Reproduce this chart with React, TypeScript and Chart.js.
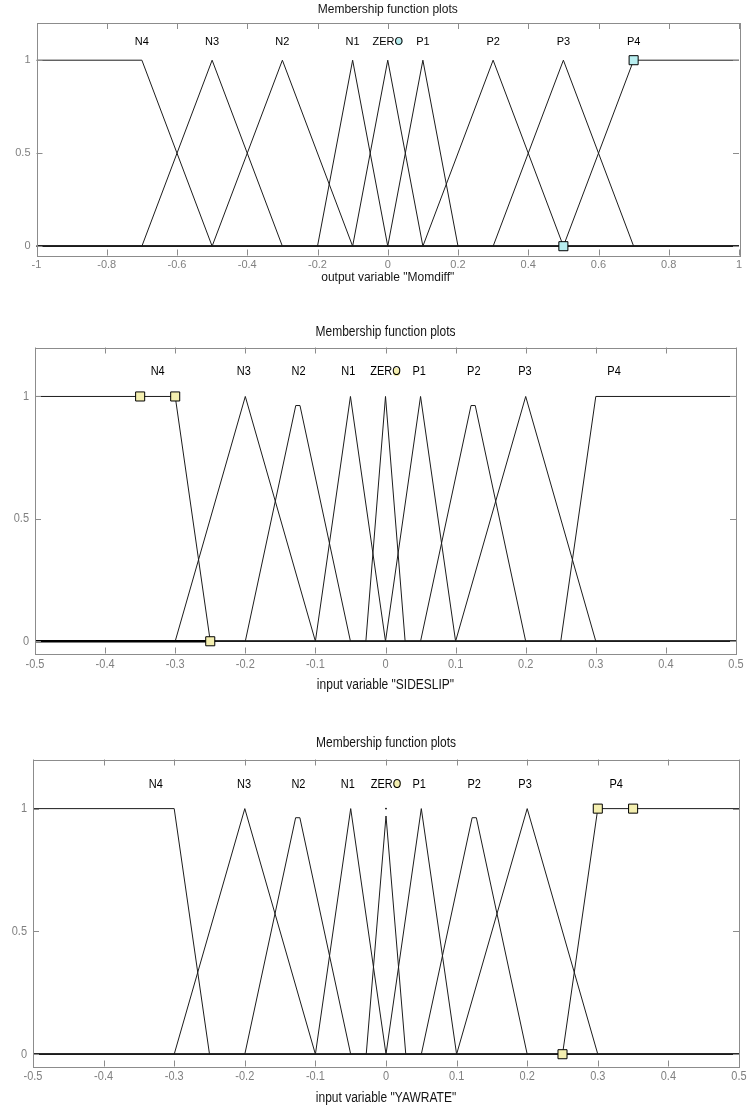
import React, { useEffect, useRef } from 'react';
import { Chart, registerables } from 'chart.js';

Chart.register(...registerables);

// ---------- shared ----------
const MF_NAMES = ['N4', 'N3', 'N2', 'N1', 'ZERO', 'P1', 'P2', 'P3', 'P4'];
const Y_TICKS = [0, 0.5, 1];
const TITLE_TEXT = 'Membership function plots';

// ---------- panel 1 : output variable "Momdiff" ----------
const momdiffXTicks = [-1, -0.8, -0.6, -0.4, -0.2, 0, 0.2, 0.4, 0.6, 0.8, 1];
const momdiffLabelX = [-0.7, -0.5, -0.3, -0.1, 0, 0.1, 0.3, 0.5, 0.7];
const momdiffMFs = [
  [[-1, 1], [-0.7, 1], [-0.5, 0], [1, 0]],
  [[-1, 0], [-0.7, 0], [-0.5, 1], [-0.3, 0], [1, 0]],
  [[-1, 0], [-0.5, 0], [-0.3, 1], [-0.1, 0], [1, 0]],
  [[-1, 0], [-0.2, 0], [-0.1, 1], [0, 0], [1, 0]],
  [[-1, 0], [-0.1, 0], [0, 1], [0.1, 0], [1, 0]],
  [[-1, 0], [0, 0], [0.1, 1], [0.2, 0], [1, 0]],
  [[-1, 0], [0.1, 0], [0.3, 1], [0.5, 0], [1, 0]],
  [[-1, 0], [0.3, 0], [0.5, 1], [0.7, 0], [1, 0]],
  [[-1, 0], [0.5, 0], [0.7, 1], [1, 1]],
];
const momdiffMarkers = [[0.7, 1], [0.5, 0]];

// ---------- panel 2 : input variable "SIDESLIP" ----------
const sideslipXTicks = [-0.5, -0.4, -0.3, -0.2, -0.1, 0, 0.1, 0.2, 0.3, 0.4, 0.5];
const sideslipLabelX = [-0.325, -0.202, -0.124, -0.053, 0, 0.048, 0.126, 0.199, 0.326];
const sideslipMFs = [
  [[-0.5, 1], [-0.3, 1], [-0.25, 0], [0.5, 0]],
  [[-0.5, 0], [-0.3, 0], [-0.2, 1], [-0.1, 0], [0.5, 0]],
  [[-0.5, 0], [-0.2, 0], [-0.128, 0.963], [-0.122, 0.963], [-0.05, 0], [0.5, 0]],
  [[-0.5, 0], [-0.1, 0], [-0.05, 1], [0, 0], [0.5, 0]],
  [[-0.5, 0], [-0.028, 0], [0, 1], [0.028, 0], [0.5, 0]],
  [[-0.5, 0], [0, 0], [0.05, 1], [0.1, 0], [0.5, 0]],
  [[-0.5, 0], [0.05, 0], [0.122, 0.963], [0.128, 0.963], [0.2, 0], [0.5, 0]],
  [[-0.5, 0], [0.1, 0], [0.2, 1], [0.3, 0], [0.5, 0]],
  [[-0.5, 0], [0.25, 0], [0.3, 1], [0.5, 1]],
];
const sideslipMarkers = [[-0.35, 1], [-0.3, 1], [-0.25, 0]];
const sideslipThickBase = [[-0.5, 0], [-0.25, 0]];

// ---------- panel 3 : input variable "YAWRATE" ----------
const yawrateXTicks = [-0.5, -0.4, -0.3, -0.2, -0.1, 0, 0.1, 0.2, 0.3, 0.4, 0.5];
const yawrateLabelX = [-0.326, -0.201, -0.124, -0.054, 0, 0.047, 0.125, 0.197, 0.326];
const yawrateMFs = [
  [[-0.5, 1], [-0.3, 1], [-0.25, 0], [0.5, 0]],
  [[-0.5, 0], [-0.3, 0], [-0.2, 1], [-0.1, 0], [0.5, 0]],
  [[-0.5, 0], [-0.2, 0], [-0.128, 0.963], [-0.122, 0.963], [-0.05, 0], [0.5, 0]],
  [[-0.5, 0], [-0.1, 0], [-0.05, 1], [0, 0], [0.5, 0]],
  [[-0.5, 0], [-0.028, 0], [0, 0.97], [0.028, 0], [0.5, 0]],
  [[-0.5, 0], [0, 0], [0.05, 1], [0.1, 0], [0.5, 0]],
  [[-0.5, 0], [0.05, 0], [0.122, 0.963], [0.128, 0.963], [0.2, 0], [0.5, 0]],
  [[-0.5, 0], [0.1, 0], [0.2, 1], [0.3, 0], [0.5, 0]],
  [[-0.5, 0], [0.25, 0], [0.3, 1], [0.5, 1]],
];
const yawrateMarkers = [[0.3, 1], [0.35, 1], [0.25, 0]];
const yawrateDots = [[0, 1]];

type Pt = number[];
type Spec = {
  top: number;
  height: number;
  l: number;
  r: number;
  t: number;
  b: number;
  xMin: number;
  xMax: number;
  xTicks: number[];
  labelX: number[];
  mfs: Pt[][];
  markers: Pt[];
  markerColor: string;
  thick?: Pt[];
  dots?: Pt[];
  titleY: number;
  tickY: number;
  xlabel: string;
  xlabelY: number;
  sy: number;
};

const FONT = '"Liberation Sans", Arial, sans-serif';

const PANELS: Spec[] = [
  {
    top: 0, height: 292, l: 36.5, r: 739, t: 23, b: 255.5,
    xMin: -1, xMax: 1, xTicks: momdiffXTicks, labelX: momdiffLabelX, mfs: momdiffMFs,
    markers: momdiffMarkers, markerColor: '#b8eef0',
    titleY: 10, tickY: 265, xlabel: 'output variable "Momdiff"', xlabelY: 277.5, sy: 1.0,
  },
  {
    top: 296, height: 404, l: 35, r: 736, t: 51.5, b: 357.5,
    xMin: -0.5, xMax: 0.5, xTicks: sideslipXTicks, labelX: sideslipLabelX, mfs: sideslipMFs,
    markers: sideslipMarkers, markerColor: '#f4efb0', thick: sideslipThickBase,
    titleY: 36, tickY: 369, xlabel: 'input variable "SIDESLIP"', xlabelY: 389, sy: 1.15,
  },
  {
    top: 706, height: 400, l: 33, r: 739, t: 53.5, b: 360.5,
    xMin: -0.5, xMax: 0.5, xTicks: yawrateXTicks, labelX: yawrateLabelX, mfs: yawrateMFs,
    markers: yawrateMarkers, markerColor: '#f4efb0', dots: yawrateDots,
    titleY: 37, tickY: 371, xlabel: 'input variable "YAWRATE"', xlabelY: 392, sy: 1.15,
  },
];

function drawText(
  ctx: CanvasRenderingContext2D, text: string, x: number, y: number,
  size: number, color: string, align: CanvasTextAlign, sy: number,
) {
  ctx.save();
  ctx.translate(x, y);
  ctx.scale(1, sy);
  ctx.font = `${size}px ${FONT}`;
  ctx.fillStyle = color;
  ctx.textAlign = align;
  ctx.textBaseline = 'middle';
  ctx.fillText(text, 0, 0);
  ctx.restore();
}

function makeDecor(spec: Spec) {
  return {
    id: 'decor',
    afterDatasetsDraw(chart: any) {
      const ctx: CanvasRenderingContext2D = chart.ctx;
      const { left, right, top, bottom } = chart.chartArea;
      const xs = chart.scales.x;
      const ys = chart.scales.y;
      ctx.save();
      // box
      ctx.strokeStyle = '#8c8c8c';
      ctx.lineWidth = 1;
      ctx.strokeRect(Math.round(left) + 0.5, Math.round(top) + 0.5, Math.round(right - left), Math.round(bottom - top));
      // inward ticks
      ctx.beginPath();
      spec.xTicks.forEach((v) => {
        const px = Math.round(xs.getPixelForValue(v)) + 0.5;
        ctx.moveTo(px, bottom);
        ctx.lineTo(px, bottom - 6);
        ctx.moveTo(px, top);
        ctx.lineTo(px, top + 6);
      });
      Y_TICKS.forEach((v) => {
        const py = Math.round(ys.getPixelForValue(v)) + 0.5;
        ctx.moveTo(left, py);
        ctx.lineTo(left + 6, py);
        ctx.moveTo(right, py);
        ctx.lineTo(right - 6, py);
      });
      ctx.stroke();
      ctx.restore();

      const cx = (left + right) / 2;
      drawText(ctx, TITLE_TEXT, cx, spec.titleY, 12, '#151515', 'center', spec.sy);
      drawText(ctx, spec.xlabel, cx, spec.xlabelY, 12, '#151515', 'center', spec.sy);
      spec.xTicks.forEach((v) => {
        drawText(ctx, String(v), xs.getPixelForValue(v), spec.tickY, 11, '#808080', 'center', spec.sy);
      });
      Y_TICKS.forEach((v) => {
        drawText(ctx, String(v), left - 6, ys.getPixelForValue(v), 11, '#808080', 'right', spec.sy);
      });
      // MF labels
      const ly = ys.getPixelForValue(1.1);
      MF_NAMES.forEach((name, i) => {
        const lx = xs.getPixelForValue(spec.labelX[i]);
        if (name === 'ZERO') {
          ctx.save();
          ctx.font = `11px ${FONT}`;
          const w = ctx.measureText('ZERO').width;
          const wz = ctx.measureText('ZER').width;
          const wo = ctx.measureText('O').width;
          const ox = lx - w / 2 + wz + wo / 2;
          ctx.fillStyle = spec.markerColor;
          ctx.beginPath();
          ctx.ellipse(ox, ly, wo / 2 - 0.6, 3.6 * spec.sy, 0, 0, Math.PI * 2);
          ctx.fill();
          ctx.restore();
        }
        drawText(ctx, name, lx, ly, 11, '#000000', 'center', spec.sy);
      });
    },
  };
}

function Panel({ spec }: { spec: Spec }) {
  const ref = useRef<HTMLCanvasElement | null>(null);
  useEffect(() => {
    if (!ref.current) return;
    const toXY = (pts: Pt[]) => pts.map(([x, y]) => ({ x, y }));
    const datasets: any[] = [];
    datasets.push({
      data: toXY(spec.markers),
      showLine: false,
      pointStyle: 'rect',
      pointRadius: 6.4,
      pointBackgroundColor: spec.markerColor,
      pointBorderColor: '#000000',
      pointBorderWidth: 1,
      order: 0,
    });
    if (spec.dots) {
      datasets.push({
        data: toXY(spec.dots),
        showLine: false,
        pointStyle: 'circle',
        pointRadius: 0.9,
        pointBackgroundColor: '#000000',
        pointBorderWidth: 0,
        order: 1,
      });
    }
    if (spec.thick) {
      datasets.push({
        data: toXY(spec.thick),
        borderColor: '#000000',
        borderWidth: 2.5,
        pointRadius: 0,
        order: 2,
      });
    }
    spec.mfs.forEach((mf, i) => {
      datasets.push({
        label: MF_NAMES[i],
        data: toXY(mf),
        borderColor: '#1c1c1c',
        borderWidth: 1,
        pointRadius: 0,
        tension: 0,
        fill: false,
        order: 3,
      });
    });
    const chart = new Chart(ref.current, {
      type: 'line',
      data: { datasets },
      options: {
        responsive: false,
        animation: false,
        devicePixelRatio: 1,
        layout: { padding: { left: 0, top: spec.t, right: 748 - spec.r, bottom: 0 } },
        plugins: { legend: { display: false }, tooltip: { enabled: false }, title: { display: false } },
        elements: { line: { borderJoinStyle: 'miter' } },
        scales: {
          x: {
            type: 'linear',
            position: 'bottom',
            min: spec.xMin,
            max: spec.xMax,
            grid: { display: false },
            border: { display: false },
            ticks: { display: false },
            afterFit: (s: any) => { s.height = spec.height - spec.b; },
          },
          y: {
            type: 'linear',
            position: 'left',
            min: -0.05,
            max: 1.2,
            grid: { display: false },
            border: { display: false },
            ticks: { display: false },
            afterFit: (s: any) => { s.width = spec.l; },
          },
        },
      } as any,
      plugins: [makeDecor(spec)],
    });
    return () => chart.destroy();
  }, [spec]);
  return (
    <div style={{ position: 'absolute', left: 0, top: spec.top, width: 748, height: spec.height }}>
      <canvas ref={ref} width={748} height={spec.height} style={{ display: 'block', width: 748, height: spec.height }} />
    </div>
  );
}

export default function App() {
  return (
    <div style={{ position: 'absolute', left: 0, top: 0, width: 748, height: 1106, background: '#ffffff' }}>
      {PANELS.map((p, i) => (
        <Panel key={i} spec={p} />
      ))}
    </div>
  );
}
